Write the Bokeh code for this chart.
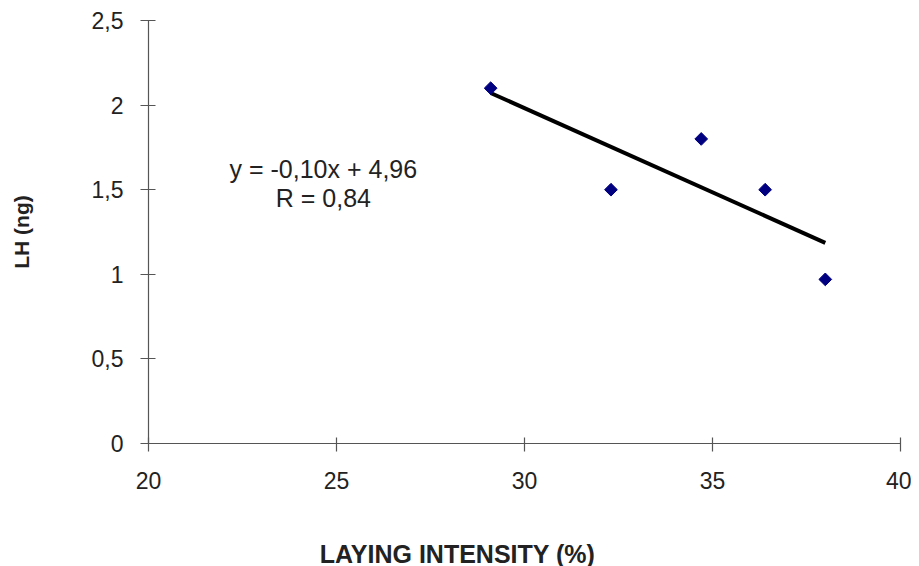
import numpy as np
from bokeh.plotting import figure
from bokeh.layouts import column
from bokeh.models import Range1d, FixedTicker, Label
from bokeh.embed import file_html
from bokeh.resources import INLINE

# data
laying_intensity = [29.1, 32.3, 34.7, 36.4, 38.0]
lh_ng = [2.10, 1.50, 1.80, 1.50, 0.97]
x_ticks = [20, 25, 30, 35, 40]
y_ticks = [0.0, 0.5, 1.0, 1.5, 2.0, 2.5]
y_tick_labels = ["0", "0,5", "1", "1,5", "2", "2,5"]
equation_lines = ["y = -0,10x + 4,96", "R = 0,84"]
x_title = "LAYING INTENSITY (%)"
y_title = "LH (ng)"

FONT = "Liberation Sans"
TXT = "#222222"
AX = "#555555"

p = figure(width=911, height=530, output_backend="svg", toolbar_location=None,
           x_range=Range1d(20, 40), y_range=Range1d(0, 2.5),
           min_border_left=148, min_border_right=11, min_border_top=20,
           min_border_bottom=87)
p.outline_line_color = None
p.xgrid.visible = False
p.ygrid.visible = False
p.background_fill_color = "white"
p.border_fill_color = "white"

# axes
p.xaxis.ticker = FixedTicker(ticks=x_ticks)
p.yaxis.ticker = FixedTicker(ticks=y_ticks)
p.yaxis.major_label_overrides = {float(t): s for t, s in zip(y_ticks, y_tick_labels)}
for ax in (p.xaxis, p.yaxis):
    ax.axis_line_color = AX
    ax.axis_line_width = 1.2
    ax.major_tick_line_color = AX
    ax.major_tick_line_width = 1.2
    ax.minor_tick_line_color = None
    ax.major_label_text_font = FONT
    ax.major_label_text_font_size = "23px"
    ax.major_label_text_color = TXT
    ax.axis_label_text_font = FONT
    ax.axis_label_text_font_size = "21px"
    ax.axis_label_text_font_style = "bold"
    ax.axis_label_text_color = TXT

p.xaxis.major_tick_in = 6
p.xaxis.major_tick_out = 8
p.xaxis.major_label_standoff = 20
p.yaxis.major_tick_in = 7
p.yaxis.major_tick_out = 8
p.yaxis.major_label_standoff = 17
p.yaxis.axis_label = y_title
p.yaxis.axis_label_standoff = 56

# trend line from least squares fit of the data
slope, intercept = np.polyfit(laying_intensity, lh_ng, 1)
xs = [min(laying_intensity), max(laying_intensity)]
p.line(xs, [slope * v + intercept for v in xs], line_color="black", line_width=4)

# data points
p.scatter(laying_intensity, lh_ng, marker="square", angle=np.pi / 4, size=9,
          fill_color="#000080", line_color="#000080")

# equation text
for i, s in enumerate(equation_lines):
    p.add_layout(Label(x=24.65, y=1.625 - 0.177 * i, text=s, text_align="center",
                       text_baseline="middle", text_font=FONT, text_font_size="25px",
                       text_color=TXT))

# strip underneath carrying the (off-centre) x axis title
t = figure(width=911, height=36, output_backend="svg", toolbar_location=None,
           x_range=p.x_range, y_range=Range1d(0, 36),
           min_border_left=148, min_border_right=11, min_border_top=0,
           min_border_bottom=0)
t.axis.visible = False
t.grid.visible = False
t.outline_line_color = None
t.background_fill_color = "white"
t.border_fill_color = "white"
t.add_layout(Label(x=28.22, y=13, text=x_title, text_align="center",
                   text_baseline="middle", text_font=FONT, text_font_size="25px",
                   text_font_style="bold", text_color=TXT))

open("out.html", "w").write(file_html(column(p, t, spacing=0), INLINE))
